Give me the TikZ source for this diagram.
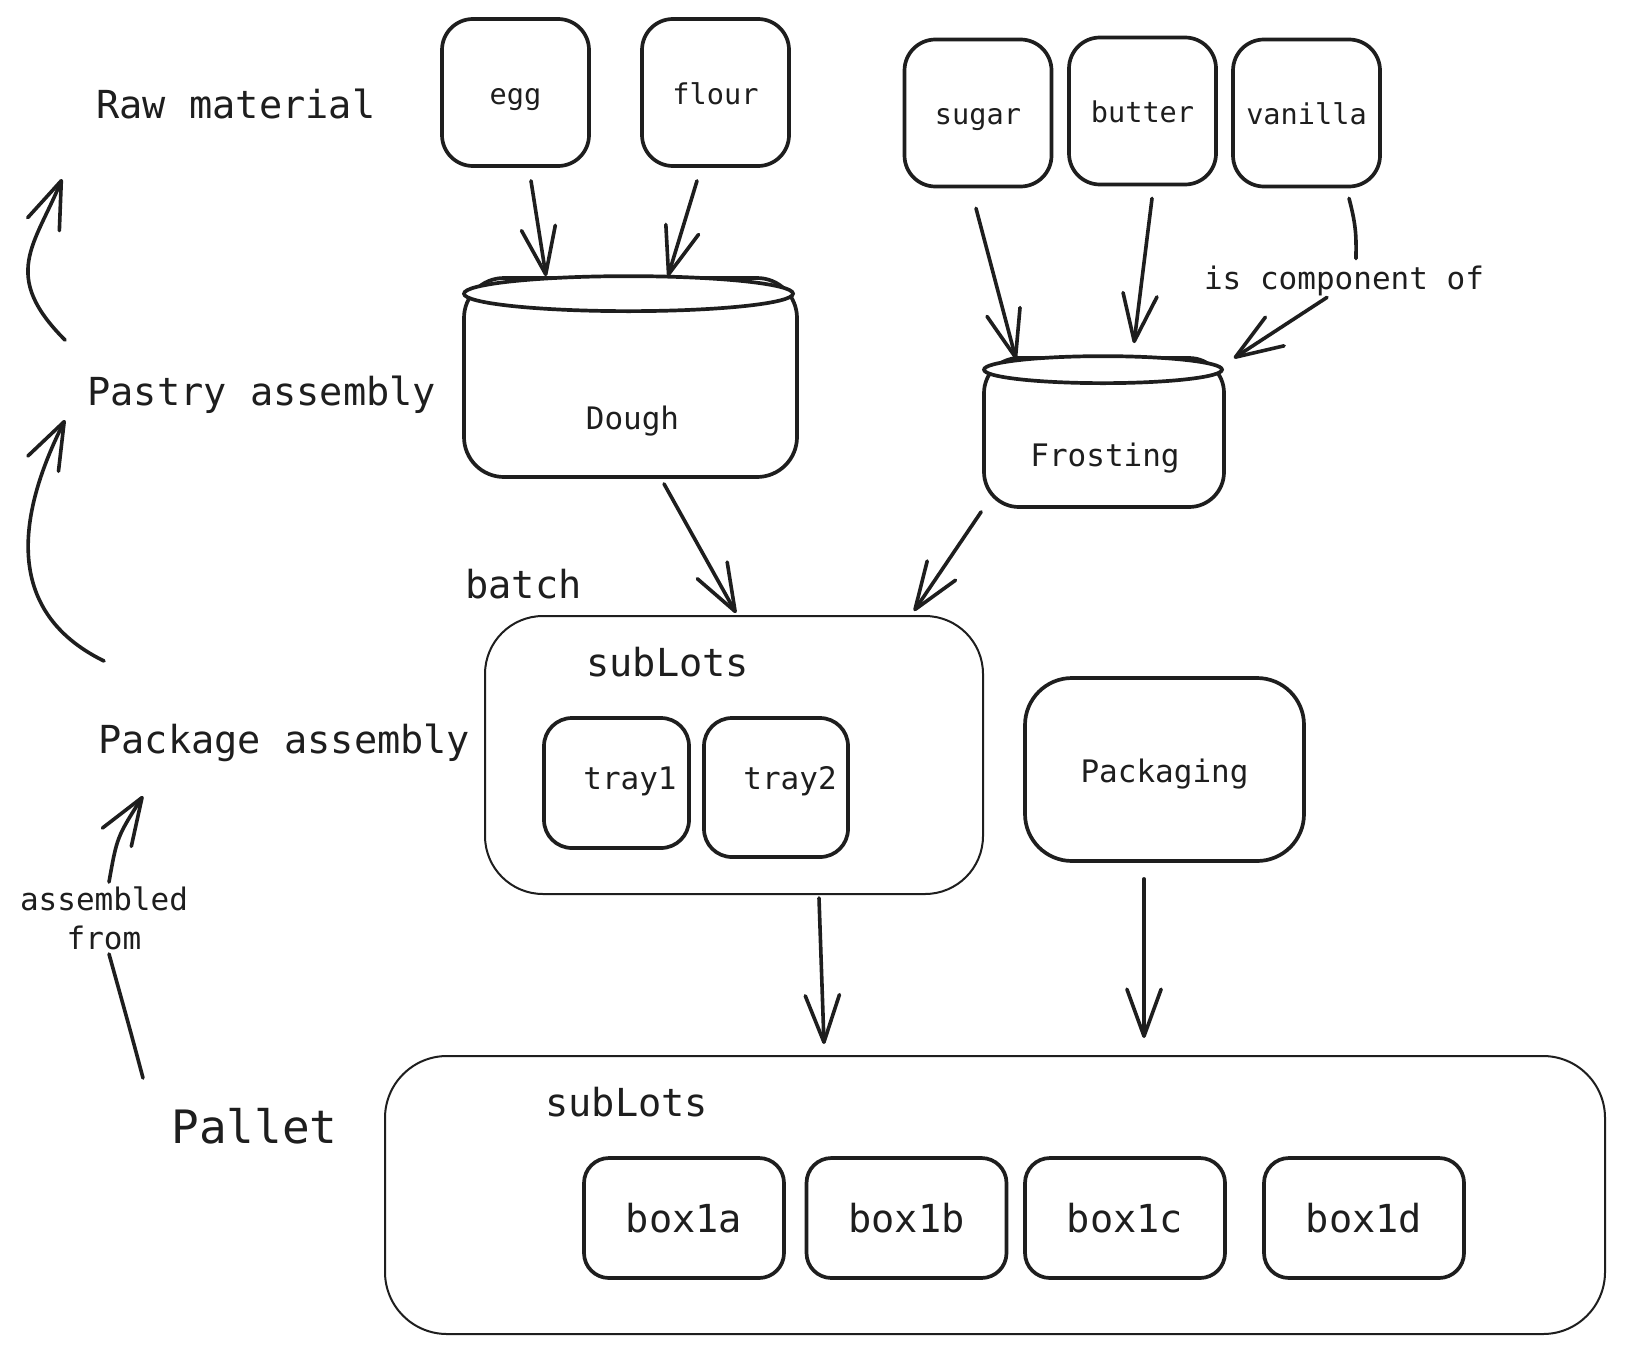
\documentclass[tikz,border=0pt]{standalone}
\usepackage{fontspec}
\setmonofont{DejaVu Sans Mono}
\usetikzlibrary{arrows.meta,calc}
\definecolor{ink}{HTML}{1E1E1E}
\newcommand\txtS{\ttfamily\fontsize{14.3}{17}\selectfont}
\newcommand\txtM{\ttfamily\fontsize{15.5}{19.5}\selectfont}
\newcommand\txtL{\ttfamily\fontsize{19.3}{23}\selectfont}
\newcommand\txtXL{\ttfamily\fontsize{23}{28}\selectfont}

\begin{document}
\begin{tikzpicture}[x=0.5pt, y=-0.5pt, color=ink,
  ingr/.style={draw=ink, line width=1.85pt, rounded corners=15.5pt, minimum width=73.5pt, minimum height=73.5pt, inner sep=0pt, text height=12pt, text depth=0pt, font=\txtS},
  tank/.style={draw=ink, line width=1.85pt, fill=white, inner sep=0pt},
  lot/.style={draw=ink, line width=1pt, inner sep=0pt},
  unitbox/.style={draw=ink, line width=1.85pt, inner sep=0pt},
  lbl/.style={inner sep=0pt, anchor=west, font=\txtL},
  arr/.style={draw=ink, line width=1.8pt, line cap=round, -{Straight Barb[angle=40:25pt,round]}},
  conn/.style={draw=ink, line width=1.8pt, line cap=round}]
  \path[use as bounding box, fill=white] (0,0) rectangle (1626,1354);

  \node[lbl] (raw) at (96,104) {Raw material};
  \node[lbl] (pastry) at (87,395) {Pastry assembly};
  \node[lbl] (pkg) at (98,743) {Package assembly};
  \node[lbl, font=\txtXL] (pallet) at (171,1126) {Pallet};

  \node[ingr] (egg) at (515.5,92.5) {egg};
  \node[ingr] (flour) at (715.5,92.5) {flour};
  \node[ingr] (sugar) at (978,113) {sugar};
  \node[ingr] (butter) at (1142.5,111) {butter};
  \node[ingr] (vanilla) at (1306.5,113) {vanilla};

  \node[tank, rounded corners=20pt, minimum width=166.5pt, minimum height=99.5pt] (dough) at (630.5,377.5) {};
  \draw[tank] ($(dough.north)+(-2,17.5)$) ellipse [x radius=82.25pt, y radius=8.75pt];
  \node[font=\txtM] (doughtxt) at ($(dough.center)+(2,44)$) {Dough};

  \node[tank, rounded corners=17.5pt, minimum width=120pt, minimum height=74.5pt] (frost) at (1104,432.5) {};
  \draw[tank] ($(frost.north)+(-1,13.5)$) ellipse [x radius=59.5pt, y radius=6.75pt];
  \node[font=\txtM] (frosttxt) at ($(frost.center)+(1,25.5)$) {Frosting};

  \node[lbl] (batch) at (465,584) {batch};
  \node[lot, rounded corners=29pt, minimum width=249pt, minimum height=139pt] (lot1) at (734,755) {};
  \node[lbl] (sub1) at (586,662) {subLots};
  \node[unitbox, rounded corners=14pt, minimum width=72.5pt, minimum height=65pt] (tray1) at (616.5,783) {};
  \node[font=\txtM] (tray1txt) at (630,781) {tray1};
  \node[unitbox, rounded corners=14pt, minimum width=72pt, minimum height=69.5pt] (tray2) at (776,787.5) {};
  \node[font=\txtM] (tray2txt) at (790,781) {tray2};
  \node[unitbox, rounded corners=23.5pt, minimum width=139.5pt, minimum height=91.5pt, text height=13.2pt, text depth=0pt, font=\txtM] (pack) at (1164.5,769.5) {Packaging};

  \node[lot, rounded corners=31pt, minimum width=610pt, minimum height=139pt] (lot2) at (995,1195) {};
  \node[lbl] (sub2) at (545,1102) {subLots};
  \foreach \n/\x in {a/684, b/906.5, c/1125, d/1364}
    \node[unitbox, rounded corners=12.5pt, minimum width=100pt, minimum height=60pt, font=\txtL] (box1\n) at (\x,1218) {box1\n};

  \node[font=\txtM, align=center, inner sep=2pt] (asm) at (104,918) {assembled\\from};
  \node[font=\txtM, inner sep=2pt] (comp) at (1344,281) {is component of};

  \draw[arr] ($(egg.south)+(15.5,13)$) -- ($(dough.north)+(-84.5,0)$);
  \draw[arr] ($(flour.south)+(-18.5,13)$) -- ($(dough.north)+(37.5,0)$);
  \draw[arr] ($(sugar.south)+(-2,20)$) -- ($(frost.north)+(-88,3)$);
  \draw[arr] ($(butter.south)+(9.5,12)$) -- ($(frost.north)+(30,-13)$);
  \draw[conn] ($(vanilla.south)+(42.5,10)$) .. controls +(8,30) and +(0,-20) .. ($(comp.north)+(12,-3)$);
  \draw[arr] ($(comp.south)+(-17,-3)$) -- ($(frost.north east)+(8,2)$);
  \draw[arr] ($(dough.south)+(33.5,5)$) -- ($(lot1.north)+(2,-2)$);
  \draw[arr] ($(frost.south west)+(-1,3)$) -- ($(lot1.north)+(180,-4)$);
  \draw[arr] ($(lot1.south)+(85,3)$) -- ($(lot2.north)+(-171,-11)$);
  \draw[arr] ($(pack.south)+(-20.5,16)$) -- ($(lot2.north)+(149,-17)$);

  \draw[arr] ($(pastry.west)+(-22,-55)$) .. controls +(-65,-65) and +(-27,66) .. ($(raw.west)+(-34,75)$);
  \draw[arr] ($(pkg.west)+(6,-82)$) .. controls +(-104,-51) and +(-45,90) .. ($(pastry.west)+(-22,25)$);
  \draw[conn] ($(pallet.west)+(-28,-48)$) .. controls +(-12,-45) .. ($(asm.south)+(5,0)$);
  \draw[arr] ($(asm.north)+(5,0)$) .. controls +(8,-45) .. ($(pkg.west)+(45,53)$);
\end{tikzpicture}
\end{document}
